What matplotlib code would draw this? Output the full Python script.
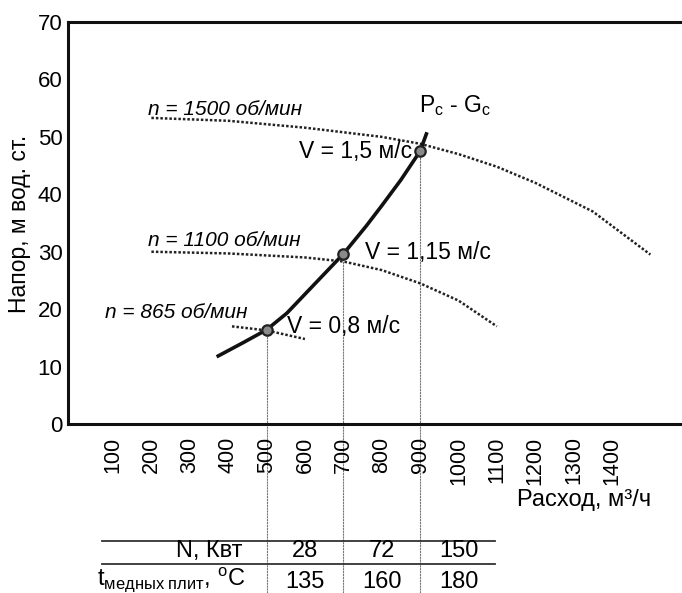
import numpy as np
import matplotlib
matplotlib.use("Agg")
import matplotlib.pyplot as plt

plt.rcParams["font.family"] = ["Liberation Sans", "DejaVu Sans"]
plt.rcParams["mathtext.fontset"] = "custom"
plt.rcParams["mathtext.rm"] = "Liberation Sans"
plt.rcParams["mathtext.it"] = "Liberation Sans:italic"

# ---------------------------
# Data
# ---------------------------
flow_ticks = [100, 200, 300, 400, 500, 600, 700, 800, 900, 1000, 1100, 1200, 1300, 1400]
head_ticks = [0, 10, 20, 30, 40, 50, 60, 70]

# pump curves (dotted)
q_1500 = [200, 400, 600, 800, 900, 1000, 1100, 1200, 1350, 1500]
h_1500 = [53.3, 52.8, 51.6, 50.0, 48.8, 47.0, 44.8, 42.0, 37.0, 29.5]
q_1100 = [200, 400, 600, 700, 800, 900, 1000, 1100]
h_1100 = [30.0, 29.7, 29.0, 28.3, 26.8, 24.5, 21.5, 17.0]
q_865 = [410, 500, 600]
h_865 = [17.0, 16.3, 14.8]

# system curve Pc - Gc (solid)
q_sys = [370, 440, 500, 553, 620, 700, 760, 800, 850, 900, 918]
h_sys = [11.7, 14.2, 16.4, 19.3, 24.0, 29.6, 34.5, 38.0, 42.5, 47.5, 50.8]

# operating points
q_work = [500, 700, 900]
h_work = [16.4, 29.6, 47.5]
v_labels = ["V = 0,8 м/с", "V = 1,15 м/с", "V = 1,5 м/с"]

# table under the chart
power_kw = [28, 72, 150]
temp_c = [135, 160, 180]

# ---------------------------
# Figure
# ---------------------------
W, H = 682, 593
fig = plt.figure(figsize=(W / 100, H / 100), dpi=100)

# pixel layout of the original
left_px, right_px, top_px, bottom_px = 68, 682, 22, 424
ax = fig.add_axes([left_px / W, 1 - bottom_px / H,
                   (right_px - left_px) / W, (bottom_px - top_px) / H])

# x scale: 100 -> 113 px, 1400 -> 612 px
kx = (612 - 113) / 1300
ax.set_xlim(100 - (113 - left_px) / kx, 100 + (right_px - 113) / kx)
ax.set_ylim(0, 70)

dots = (0, (1, 0.8))
ax.plot(q_1500, h_1500, color="#222222", lw=1.8, linestyle=dots)
ax.plot(q_1100, h_1100, color="#222222", lw=1.8, linestyle=dots)
ax.plot(q_865, h_865, color="#222222", lw=1.8, linestyle=dots)
ax.plot(q_sys, h_sys, color="#111111", lw=2.6, solid_capstyle="butt")

# thin drop lines from operating points down through the table
ky = (bottom_px - top_px) / 70
y_bottom = -(H - bottom_px) / ky
ax.vlines(q_work, y_bottom, h_work, color="#777777", lw=0.8,
          linestyle=(0, (2, 0.6)), clip_on=False, zorder=1)
ax.plot(q_work, h_work, "o", ms=7.5, mfc="#8a8a8a", mec="#222222", mew=1.6, zorder=5)

# curve labels
ax.text(191, 54.7, "n = 1500 об/мин", style="italic", fontsize=15, va="center")
ax.text(191, 32.0, "n = 1100 об/мин", style="italic", fontsize=15, va="center")
ax.text(79, 19.5, "n = 865 об/мин", style="italic", fontsize=15, va="center")
ax.text(879, 47.4, v_labels[2], fontsize=16.5, ha="right", va="center")
ax.text(757, 29.8, v_labels[1], fontsize=16.5, ha="left", va="center")
ax.text(553, 16.9, v_labels[0], fontsize=16.5, ha="left", va="center")
ax.text(991, 55.5, r"P$_\mathregular{c}$ - G$_\mathregular{c}$", fontsize=16.5,
        ha="center", va="center")

# axes styling
for s in ["left", "top", "bottom"]:
    ax.spines[s].set_linewidth(2.2)
    ax.spines[s].set_color("#111111")
ax.spines["right"].set_visible(False)
ax.set_xticks(flow_ticks)
ax.set_xticklabels([str(v) for v in flow_ticks], rotation=90, fontsize=15.5, va="top")
ax.set_yticks(head_ticks)
ax.set_yticklabels([str(v) for v in head_ticks], fontsize=16)
ax.tick_params(axis="x", length=0, pad=9)
ax.tick_params(axis="y", length=0, pad=4)

ax.text(1502, -13.2, "Расход, м³/ч", fontsize=17, ha="right", va="center")
fig.text(20 / W, 1 - 224 / H, "Напор, м вод. ст.", rotation=90, fontsize=16.5,
         ha="center", va="center")

# table
def px_to_y(py):
    return (bottom_px - py) / ky

def px_to_x(px):
    return 100 + (px - 113) / kx

for py in [541, 564]:
    ax.plot([px_to_x(102), px_to_x(495)], [px_to_y(py)] * 2, color="#333333",
            lw=1.3, clip_on=False)
ax.text(px_to_x(242), px_to_y(551), "N, Квт", fontsize=17, ha="right", va="center")
ax.text(px_to_x(97), px_to_y(580),
        r"t$_{\mathregular{медных\ плит}}$, $^{\mathregular{o}}$C",
        fontsize=17, ha="left", va="center")
for q, n, t in zip(q_work, power_kw, temp_c):
    ax.text(q + 100, px_to_y(551), str(n), fontsize=17, ha="center", va="center")
    ax.text(q + 100, px_to_y(582), str(t), fontsize=17, ha="center", va="center")

fig.savefig("out.png", dpi=100)
